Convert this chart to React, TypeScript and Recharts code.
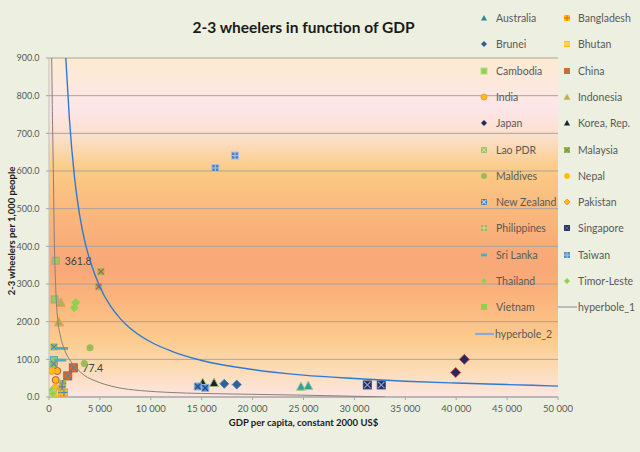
import React from 'react';
import { ScatterChart, Scatter, XAxis, YAxis, CartesianGrid, Legend } from 'recharts';

type Pt = { x: number; y: number; label?: string };

// ---- data ----
const australia: Pt[] = [{ x: 24750, y: 28 }, { x: 25470, y: 30 }];
const bangladesh: Pt[] = [{ x: 400, y: 12 }, { x: 460, y: 10 }];
const brunei: Pt[] = [{ x: 17220, y: 35 }, { x: 18440, y: 33 }];
const bhutan: Pt[] = [{ x: 1250, y: 12 }, { x: 1470, y: 12 }];
const cambodia: Pt[] = [{ x: 490, y: 98 }, { x: 450, y: 85 }];
const china: Pt[] = [{ x: 2390, y: 77.4, label: '77.4' }, { x: 1840, y: 56 }];
const india: Pt[] = [{ x: 815, y: 69 }, { x: 660, y: 45 }];
const indonesia: Pt[] = [{ x: 1150, y: 251 }, { x: 980, y: 199 }];
const japan: Pt[] = [{ x: 39950, y: 65 }, { x: 40800, y: 100 }];
const korea: Pt[] = [{ x: 15100, y: 38 }, { x: 16210, y: 38 }];
const lao: Pt[] = [{ x: 490, y: 133 }, { x: 470, y: 88 }];
const malaysia: Pt[] = [{ x: 5100, y: 333 }, { x: 4880, y: 293 }];
const maldives: Pt[] = [{ x: 4030, y: 131 }, { x: 3470, y: 89 }];
const nepal: Pt[] = [{ x: 265, y: 69 }, { x: 325, y: 15 }];
const newZealand: Pt[] = [{ x: 14610, y: 28 }, { x: 15350, y: 24 }];
const pakistan: Pt[] = [{ x: 560, y: 22 }, { x: 620, y: 28 }];
const philippines: Pt[] = [{ x: 1345, y: 36 }, { x: 1290, y: 27 }];
const singapore: Pt[] = [{ x: 31270, y: 32 }, { x: 32640, y: 32 }];
const sriLanka: Pt[] = [{ x: 1280, y: 129 }, { x: 1110, y: 98 }];
const taiwan: Pt[] = [{ x: 18270, y: 641 }, { x: 16340, y: 608 }];
const thailand: Pt[] = [{ x: 2620, y: 251 }, { x: 2480, y: 237 }];
const timorLeste: Pt[] = [{ x: 265, y: 18 }, { x: 380, y: 9 }];
const vietnam: Pt[] = [{ x: 658, y: 361.8, label: '361.8' }, { x: 560, y: 259 }];

const hyperbole1: Pt[] = [
  { x: 265, y: 900 }, { x: 340, y: 740 }, { x: 422, y: 606 }, { x: 520, y: 420 },
  { x: 660, y: 290 }, { x: 855, y: 205 }, { x: 1100, y: 165 }, { x: 1500, y: 127 },
  { x: 2000, y: 100 }, { x: 2650, y: 78 }, { x: 3500, y: 57 }, { x: 4620, y: 42 },
  { x: 6580, y: 26 }, { x: 9000, y: 17 }, { x: 12000, y: 12 }, { x: 18000, y: 8 },
  { x: 24700, y: 5 }, { x: 30000, y: 2 }, { x: 33000, y: 0 },
];
const hyperbole2: Pt[] = [
  { x: 1650, y: 900 }, { x: 2000, y: 740 }, { x: 2500, y: 585 }, { x: 3000, y: 485 },
  { x: 3500, y: 415 }, { x: 4000, y: 365 }, { x: 5000, y: 292 }, { x: 6000, y: 243 },
  { x: 7000, y: 208 }, { x: 8000, y: 182 }, { x: 10000, y: 146 }, { x: 12000, y: 122 },
  { x: 15000, y: 97 }, { x: 20000, y: 73 }, { x: 25000, y: 58 }, { x: 30000, y: 49 },
  { x: 35000, y: 42 }, { x: 40000, y: 37 }, { x: 45000, y: 33 }, { x: 50000, y: 29 },
];

const xTicks = [0, 5000, 10000, 15000, 20000, 25000, 30000, 35000, 40000, 45000, 50000];
const yTicks = [0, 100, 200, 300, 400, 500, 600, 700, 800, 900];

// ---- styles ----
type Kind = 'square' | 'circle' | 'triangle' | 'diamond' | 'dash' | 'line';
type Pat = 'x' | '+' | '=' | undefined;
type Sty = { kind: Kind; fill: string; stroke?: string; size: number; pat?: Pat; patColor?: string };

const FONT = 'Lato, "Open Sans", sans-serif';

function Marker({ cx, cy, s, size }: { cx: number; cy: number; s: Sty; size: number }) {
  const h = size / 2;
  const sw = s.stroke ? 1 : 0;
  let el: React.ReactNode = null;
  if (s.kind === 'square') {
    el = <rect x={cx - h} y={cy - h} width={size} height={size} fill={s.fill} stroke={s.stroke} strokeWidth={sw} />;
  } else if (s.kind === 'circle') {
    el = <circle cx={cx} cy={cy} r={h} fill={s.fill} stroke={s.stroke} strokeWidth={sw} />;
  } else if (s.kind === 'triangle') {
    el = <polygon points={`${cx},${cy - h} ${cx + h},${cy + h * 0.85} ${cx - h},${cy + h * 0.85}`} fill={s.fill} stroke={s.stroke} strokeWidth={sw} />;
  } else if (s.kind === 'diamond') {
    el = <polygon points={`${cx},${cy - h} ${cx + h},${cy} ${cx},${cy + h} ${cx - h},${cy}`} fill={s.fill} stroke={s.stroke} strokeWidth={sw} />;
  } else if (s.kind === 'dash') {
    el = <rect x={cx - size * 0.75} y={cy - 1.4} width={size * 1.5} height={2.8} fill={s.fill} />;
  }
  let pat: React.ReactNode = null;
  const q = h * 0.8;
  if (s.pat === 'x') {
    pat = (
      <g stroke={s.patColor} strokeWidth={1.1}>
        <line x1={cx - q} y1={cy - q} x2={cx + q} y2={cy + q} />
        <line x1={cx - q} y1={cy + q} x2={cx + q} y2={cy - q} />
      </g>
    );
  } else if (s.pat === '+') {
    pat = (
      <g stroke={s.patColor} strokeWidth={1.1}>
        <line x1={cx - h} y1={cy} x2={cx + h} y2={cy} />
        <line x1={cx} y1={cy - h} x2={cx} y2={cy + h} />
      </g>
    );
  } else if (s.pat === '=') {
    pat = (
      <g stroke={s.patColor} strokeWidth={1}>
        <line x1={cx - h} y1={cy - h / 3} x2={cx + h} y2={cy - h / 3} />
        <line x1={cx - h} y1={cy + h / 3} x2={cx + h} y2={cy + h / 3} />
      </g>
    );
  }
  return (
    <g>
      {el}
      {pat}
    </g>
  );
}

const makeShape = (s: Sty) => (props: any) => {
  const { cx, cy, payload } = props;
  if (cx == null || cy == null) return <g />;
  return (
    <g>
      <Marker cx={cx} cy={cy} s={s} size={s.size} />
      {payload && payload.label ? (
        <text x={cx + 9} y={cy + 3.8} fontSize={10.5} fill="#404040" fontFamily={FONT}>
          {payload.label}
        </text>
      ) : null}
    </g>
  );
};

type Series = { name: string; data: Pt[]; sty: Sty; legendSty?: Sty };

const series: Series[] = [
  { name: 'Australia', data: australia, sty: { kind: 'triangle', fill: '#31A0A6', stroke: '#A9C97A', size: 9 }, legendSty: { kind: 'triangle', fill: '#2E8A96', size: 6 } },
  { name: 'Bangladesh', data: bangladesh, sty: { kind: 'square', fill: '#FFC000', size: 7, pat: '+', patColor: '#F79646' }, legendSty: { kind: 'square', fill: '#FFC000', size: 6, pat: '+', patColor: '#E46C0A' } },
  { name: 'Brunei', data: brunei, sty: { kind: 'diamond', fill: '#2F5F98', stroke: '#4F81BD', size: 9 }, legendSty: { kind: 'diamond', fill: '#2F5F98', size: 6 } },
  { name: 'Bhutan', data: bhutan, sty: { kind: 'square', fill: '#FFC000', stroke: '#F5A623', size: 7, pat: '+', patColor: '#4F81BD' }, legendSty: { kind: 'square', fill: '#FFC000', size: 6, pat: '=', patColor: '#FDE3A0' } },
  { name: 'Cambodia', data: cambodia, sty: { kind: 'square', fill: '#92D050', stroke: '#4BACC6', size: 7 }, legendSty: { kind: 'square', fill: '#92D050', stroke: '#B6DD8C', size: 6 } },
  { name: 'China', data: china, sty: { kind: 'square', fill: '#E46C0A', stroke: '#C0504D', size: 8, pat: 'x', patColor: '#4F81BD' }, legendSty: { kind: 'square', fill: '#E46C0A', size: 6, pat: 'x', patColor: '#8C7A9A' } },
  { name: 'India', data: india, sty: { kind: 'circle', fill: '#FFC000', stroke: '#C0504D', size: 7 }, legendSty: { kind: 'circle', fill: '#FFC000', stroke: '#F79646', size: 6 } },
  { name: 'Indonesia', data: indonesia, sty: { kind: 'triangle', fill: '#9BBB59', stroke: '#F79646', size: 9 }, legendSty: { kind: 'triangle', fill: '#9BBB59', stroke: '#F5B26B', size: 6 } },
  { name: 'Japan', data: japan, sty: { kind: 'diamond', fill: '#1F2A5E', stroke: '#C0504D', size: 10 }, legendSty: { kind: 'diamond', fill: '#1F2A5E', size: 6 } },
  { name: 'Korea, Rep.', data: korea, sty: { kind: 'triangle', fill: '#132338', stroke: '#9BBB59', size: 9 }, legendSty: { kind: 'triangle', fill: '#132338', size: 6 } },
  { name: 'Lao PDR', data: lao, sty: { kind: 'square', fill: '#9BBB59', size: 7, pat: 'x', patColor: '#4F81BD' }, legendSty: { kind: 'square', fill: '#9BBB59', size: 6, pat: 'x', patColor: '#C6E0A0' } },
  { name: 'Malaysia', data: malaysia, sty: { kind: 'square', fill: '#9BBB59', size: 7, pat: 'x', patColor: '#C0504D' }, legendSty: { kind: 'square', fill: '#9BBB59', size: 6, pat: 'x', patColor: '#7A9444' } },
  { name: 'Maldives', data: maldives, sty: { kind: 'circle', fill: '#9BBB59', size: 7 }, legendSty: { kind: 'circle', fill: '#9BBB59', size: 6 } },
  { name: 'Nepal', data: nepal, sty: { kind: 'circle', fill: '#FFC000', stroke: '#F79646', size: 7 }, legendSty: { kind: 'circle', fill: '#FFC000', size: 6 } },
  { name: 'New Zealand', data: newZealand, sty: { kind: 'square', fill: '#558ED5', stroke: '#8DB3E2', size: 7, pat: 'x', patColor: '#1F497D' }, legendSty: { kind: 'square', fill: '#3A7BC8', size: 6, pat: 'x', patColor: '#C6D9F1' } },
  { name: 'Pakistan', data: pakistan, sty: { kind: 'diamond', fill: '#FFC000', stroke: '#F79646', size: 7 }, legendSty: { kind: 'diamond', fill: '#FFC000', stroke: '#F79646', size: 6 } },
  { name: 'Philippines', data: philippines, sty: { kind: 'square', fill: '#9BBB59', size: 7, pat: '+', patColor: '#8064A2' }, legendSty: { kind: 'square', fill: '#9BBB59', size: 6, pat: '+', patColor: '#C6E0A0' } },
  { name: 'Singapore', data: singapore, sty: { kind: 'square', fill: '#1F2A5E', stroke: '#3B4A80', size: 8, pat: 'x', patColor: '#8FA0C8' }, legendSty: { kind: 'square', fill: '#1F2A5E', size: 6, pat: 'x', patColor: '#55658F' } },
  { name: 'Sri Lanka', data: sriLanka, sty: { kind: 'dash', fill: '#4BACC6', size: 8 }, legendSty: { kind: 'dash', fill: '#4BACC6', size: 4 } },
  { name: 'Taiwan', data: taiwan, sty: { kind: 'square', fill: '#4F81BD', stroke: '#A7C0E0', size: 7, pat: '+', patColor: '#A7C0E0' }, legendSty: { kind: 'square', fill: '#558ED5', size: 6, pat: '+', patColor: '#A7C0E0' } },
  { name: 'Thailand', data: thailand, sty: { kind: 'diamond', fill: '#92D050', size: 9 }, legendSty: { kind: 'diamond', fill: '#92D050', size: 6 } },
  { name: 'Timor-Leste', data: timorLeste, sty: { kind: 'diamond', fill: '#92D050', stroke: '#B6DD8C', size: 8 }, legendSty: { kind: 'diamond', fill: '#92D050', size: 6 } },
  { name: 'Vietnam', data: vietnam, sty: { kind: 'square', fill: '#92D050', stroke: '#B59A9A', size: 7 }, legendSty: { kind: 'square', fill: '#92D050', size: 6 } },
];

const lines = [
  { name: 'hyperbole_1', data: hyperbole1, color: '#8A7E7A', width: 1, legendColor: '#8A8A8A', legendWidth: 1 },
  { name: 'hyperbole_2', data: hyperbole2, color: '#2B7BD6', width: 1.4, legendColor: '#8FA8DA', legendWidth: 2.2 },
];

const fmtX = (v: number) => (v === 0 ? '0' : String(v).replace(/\B(?=(\d{3})+(?!\d))/g, ' '));
const fmtY = (v: number) => v.toFixed(1);

type LegItem = { name: string; sty?: Sty; line?: { color: string; width: number } };
const legendItems: LegItem[] = [
  ...series.map((s) => ({ name: s.name, sty: s.legendSty || s.sty })),
  { name: lines[0].name, line: { color: lines[0].legendColor, width: lines[0].legendWidth } },
  { name: lines[1].name, line: { color: lines[1].legendColor, width: lines[1].legendWidth } },
];

const renderLegend = () => (
  <div style={{ position: 'relative', width: 170, height: 350, fontFamily: FONT }}>
    {legendItems.map((it, i) => {
      const col = i % 2;
      const row = Math.floor(i / 2);
      const top = 13 + row * 26.3;
      const left = col === 0 ? 0 : 83;
      return (
        <div key={it.name} style={{ position: 'absolute', left, top: top - 9, height: 18, width: 85, whiteSpace: 'nowrap' }}>
          <svg width={26} height={18} style={{ position: 'absolute', left: 0, top: 0 }}>
            {it.line ? (
              <line x1={5} y1={9} x2={24} y2={9} stroke={it.line.color} strokeWidth={it.line.width} />
            ) : (
              <Marker cx={14} cy={9} s={it.sty as Sty} size={(it.sty as Sty).size} />
            )}
          </svg>
          <span
            style={{
              position: 'absolute',
              left: it.line ? 25 : col === 0 ? 26 : 25,
              top: 1,
              fontSize: 10.5,
              lineHeight: '16px',
              color: '#595959',
            }}
          >
            {it.name}
          </span>
        </div>
      );
    })}
  </div>
);

export default function App() {
  return (
    <div style={{ position: 'absolute', left: 0, top: 0, width: 640, height: 452, background: '#EDF0E0', fontFamily: FONT }}>
      <div
        style={{
          position: 'absolute',
          left: 49,
          width: 509,
          top: 16,
          textAlign: 'center',
          fontSize: 15.5,
          fontWeight: 700,
          color: '#1A1A1A',
          fontFamily: FONT,
          lineHeight: '22px',
        }}
      >
        2-3 wheelers in function of GDP
      </div>
      <ScatterChart width={640} height={452} margin={{ top: 58, right: 82, bottom: 15, left: 8 }}>
        <defs>
          <linearGradient id="plotBg" x1="0" y1="0" x2="0" y2="1">
            <stop offset="0" stopColor="#FCEBD0" />
            <stop offset="0.15" stopColor="#FDE6EA" />
            <stop offset="0.24" stopColor="#FCDEC6" />
            <stop offset="0.33" stopColor="#FBCB85" />
            <stop offset="0.445" stopColor="#FAB97D" />
            <stop offset="0.555" stopColor="#F9AB79" />
            <stop offset="0.625" stopColor="#F9A877" />
            <stop offset="0.71" stopColor="#FBB47C" />
            <stop offset="0.83" stopColor="#FCCB8D" />
            <stop offset="0.92" stopColor="#FCDCB5" />
            <stop offset="1" stopColor="#FCE6E3" />
          </linearGradient>
        </defs>
        <CartesianGrid vertical={false} stroke="#ABA39D" fill="url(#plotBg)" fillOpacity={1} />
        <XAxis
          type="number"
          dataKey="x"
          domain={[0, 50000]}
          ticks={xTicks}
          interval={0}
          tickFormatter={fmtX}
          height={40}
          tickSize={3}
          tickMargin={5}
          axisLine={{ stroke: '#A6A6A6' }}
          tickLine={{ stroke: '#A6A6A6' }}
          tick={{ fontSize: 9.5, fill: '#595959', fontFamily: FONT }}
          allowDataOverflow
          label={{
            content: () => (
              <text x={303.5} y={426} textAnchor="middle" fontSize={9.5} fontWeight={700} fill="#1A1A1A" fontFamily={FONT}>
                GDP per capita, constant 2000 US$
              </text>
            ),
          }}
        />
        <YAxis
          type="number"
          dataKey="y"
          domain={[0, 900]}
          ticks={yTicks}
          interval={0}
          tickFormatter={fmtY}
          width={41}
          tickSize={3}
          tickMargin={6.5}
          axisLine={{ stroke: '#BFBFBF' }}
          tickLine={{ stroke: '#A6A6A6' }}
          tick={{ fontSize: 9, fill: '#595959', fontFamily: FONT }}
          allowDataOverflow
          label={{
            content: () => (
              <text
                x={11}
                y={231}
                transform="rotate(-90 11 231)"
                textAnchor="middle"
                dominantBaseline="central"
                fontSize={9.5}
                fontWeight={700}
                fill="#1A1A1A"
                fontFamily={FONT}
              >
                2-3 wheelers per 1,000 people
              </text>
            ),
          }}
        />
        {series.map((s) => (
          <Scatter key={s.name} name={s.name} data={s.data} shape={makeShape(s.sty)} isAnimationActive={false} />
        ))}
        {lines.map((l) => (
          <Scatter
            key={l.name}
            name={l.name}
            data={l.data}
            line={{ stroke: l.color, strokeWidth: l.width }}
            lineJointType="monotoneX"
            shape={() => <g />}
            isAnimationActive={false}
          />
        ))}
        <Legend
          verticalAlign="middle"
          align="center"
          layout="horizontal"
          content={renderLegend}
          wrapperStyle={{ position: 'absolute', left: 470, top: 5, width: 170, height: 350 }}
        />
      </ScatterChart>
    </div>
  );
}
